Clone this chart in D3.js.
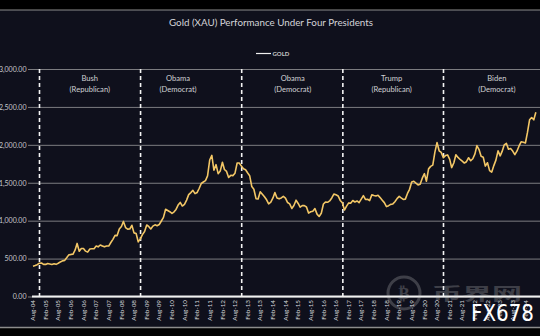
<!DOCTYPE html>
<html><head><meta charset="utf-8">
<script src="https://cdn.jsdelivr.net/npm/d3@7"></script>
<style>html,body{margin:0;padding:0;background:#000;}svg{display:block;}</style>
</head><body>
<svg id="c" width="540" height="336"></svg>
<script>
// ---- data ----
const startMonth = "2004-08";
const gold2004 = [400, 408, 420, 439, 442];
const gold2005 = [424, 423, 434, 428, 422, 431, 424, 438, 456, 470, 476, 510];
const gold2006 = [549, 555, 557, 610, 700, 596, 633, 632, 598, 585, 627, 629];
const gold2007 = [631, 665, 655, 679, 667, 655, 665, 665, 712, 754, 806, 803];
const gold2008 = [889, 922, 990, 909, 888, 890, 939, 839, 830, 720, 760, 816];
const gold2009 = [858, 943, 924, 890, 928, 945, 934, 949, 996, 1043, 1150, 1134];
const gold2010 = [1118, 1095, 1113, 1148, 1205, 1240, 1193, 1215, 1271, 1343, 1370, 1400];
const gold2011 = [1356, 1372, 1424, 1490, 1510, 1529, 1590, 1800, 1860, 1665, 1739, 1620];
const gold2012 = [1656, 1770, 1675, 1649, 1570, 1598, 1594, 1626, 1760, 1760, 1722, 1685];
const gold2013 = [1671, 1628, 1593, 1450, 1414, 1290, 1286, 1380, 1349, 1316, 1275, 1221];
const gold2014 = [1244, 1300, 1370, 1299, 1288, 1300, 1320, 1296, 1239, 1222, 1160, 1200];
const gold2015 = [1270, 1227, 1178, 1198, 1198, 1181, 1100, 1117, 1125, 1159, 1086, 1055];
const gold2016 = [1097, 1220, 1245, 1242, 1260, 1300, 1350, 1341, 1326, 1267, 1236, 1140];
const gold2017 = [1192, 1234, 1231, 1266, 1246, 1260, 1237, 1283, 1330, 1280, 1282, 1265];
const gold2018 = [1340, 1331, 1325, 1335, 1304, 1270, 1238, 1185, 1198, 1215, 1221, 1250];
const gold2019 = [1291, 1320, 1300, 1280, 1284, 1359, 1413, 1510, 1520, 1495, 1471, 1480];
const gold2020 = [1560, 1620, 1520, 1683, 1716, 1732, 1900, 2030, 1921, 1900, 1830, 1858];
const gold2021 = [1867, 1808, 1700, 1760, 1870, 1834, 1807, 1785, 1760, 1777, 1830, 1790];
const gold2022 = [1817, 1880, 1990, 1937, 1849, 1837, 1720, 1764, 1660, 1640, 1726, 1798];
const gold2023 = [1920, 1855, 1913, 2000, 2020, 1943, 1951, 1918, 1870, 1916, 1985, 2040];
const gold2024 = [2034, 2024, 2160, 2330, 2360, 2330, 2430];
const goldSeries = [].concat(gold2004, gold2005, gold2006, gold2007, gold2008, gold2009, gold2010,
  gold2011, gold2012, gold2013, gold2014, gold2015, gold2016, gold2017, gold2018, gold2019,
  gold2020, gold2021, gold2022, gold2023, gold2024);

const yTicks = [0, 500, 1000, 1500, 2000, 2500, 3000];
const xTickStart = "2004-08", xTickCount = 40; // Aug-04 ... Feb-24, every 6 months
const electionDates = ["2004-11-03", "2008-11-04", "2012-11-06", "2016-11-08", "2020-11-03"];
const presidents = ["Bush", "Obama", "Obama", "Trump", "Biden"];
const parties = ["(Republican)", "(Democrat)", "(Democrat)", "(Republican)", "(Democrat)"];
const labelDates = ["2006-11-01", "2010-05-01", "2014-11-15", "2018-10-15", "2022-12-15"];
const titleText = "Gold (XAU) Performance Under Four Presidents";
const seriesName = "GOLD";

// ---- drawing ----
const svg = d3.select("#c");
const parseM = d3.timeParse("%Y-%m");
const parseD = d3.timeParse("%Y-%m-%d");
const t0 = parseM(startMonth);
const data = goldSeries.map((v, i) => ({date: d3.timeMonth.offset(t0, i), v}));

svg.append("rect").attr("width", 540).attr("height", 336).attr("fill", "#000");
svg.append("rect").attr("x", 0).attr("y", 10).attr("width", 540).attr("height", 317).attr("fill", "#0f101c");
svg.append("line").attr("x1", 0).attr("x2", 540).attr("y1", 10).attr("y2", 10).attr("stroke", "#8c8c8c").attr("stroke-width", 1.2);
svg.append("line").attr("x1", 0).attr("x2", 540).attr("y1", 327.5).attr("y2", 327.5).attr("stroke", "#8c8c8c").attr("stroke-width", 1.4);

const x = d3.scaleTime().domain([parseM("2004-08"), parseM("2024-08")]).range([33, 538]);
const y = d3.scaleLinear().domain([0, 3000]).range([296.5, 69]);

// title
svg.append("text").attr("x", 271).attr("y", 26).attr("text-anchor", "middle")
  .attr("font-family", "Lato, 'Open Sans', sans-serif").attr("font-size", 9.8)
  .attr("fill", "#d4d4d8").text(titleText);

// legend
svg.append("line").attr("x1", 256).attr("x2", 271).attr("y1", 53.5).attr("y2", 53.5)
  .attr("stroke", "#f0f0f0").attr("stroke-width", 1.2);
svg.append("text").attr("x", 272.5).attr("y", 55.8)
  .attr("font-family", "Lato, sans-serif").attr("font-size", 6).attr("font-weight", "bold")
  .attr("fill", "#c8c8c8").text(seriesName);

// grid + y axis
const yAxis = d3.axisLeft(y).tickValues(yTicks).tickSize(-(540 - 28)).tickPadding(3)
  .tickFormat(d3.format(",.2f"));
const gy = svg.append("g").attr("transform", "translate(28,0)").call(yAxis);
gy.select(".domain").remove();
gy.selectAll(".tick line").attr("stroke", "#7c7c80").attr("stroke-width", 1);
gy.selectAll(".tick text").attr("font-family", "Lato, sans-serif").attr("font-size", 7)
  .attr("fill", "#c8c8cc").attr("x", -1.5);

// dashed election lines
svg.append("g").selectAll("line").data(electionDates).join("line")
  .attr("x1", d => x(parseD(d))).attr("x2", d => x(parseD(d)))
  .attr("y1", y(3000)).attr("y2", y(0))
  .attr("stroke", "#f4f4f4").attr("stroke-width", 1.6).attr("stroke-dasharray", "4,3");

// president labels
const pl = svg.append("g").attr("font-family", "Lato, sans-serif").attr("font-size", 7.6)
  .attr("fill", "#d0d0d4").attr("text-anchor", "middle");
presidents.forEach((p, i) => {
  const px = x(parseD(labelDates[i]));
  pl.append("text").attr("x", px).attr("y", 81).text(p);
  pl.append("text").attr("x", px).attr("y", 92).text(parties[i]);
});

// gold line
const line = d3.line().x(d => x(d.date)).y(d => y(d.v)).curve(d3.curveLinear);
svg.append("path").datum(data).attr("d", line).attr("fill", "none")
  .attr("stroke", "#f3c766").attr("stroke-width", 1.6).attr("stroke-linejoin", "round");

// x axis base line
svg.append("line").attr("x1", 32).attr("x2", 540).attr("y1", y(0)).attr("y2", y(0))
  .attr("stroke", "#f2f2f2").attr("stroke-width", 1.8);

// x tick labels
const xTicks = d3.range(xTickCount).map(i => d3.timeMonth.offset(parseM(xTickStart), i * 6));
const fmt = d3.timeFormat("%b-%y");
svg.append("g").selectAll("text").data(xTicks).join("text")
  .attr("transform", d => `translate(${x(d)},300) rotate(-90)`)
  .attr("text-anchor", "end").attr("dy", "0.35em")
  .attr("font-family", "Lato, sans-serif").attr("font-size", 6.3)
  .attr("fill", "#d8d8dc").text(d => fmt(d));

// watermarks
const wm = svg.append("g").attr("opacity", 0.25);
wm.append("circle").attr("cx", 404).attr("cy", 293).attr("r", 16).attr("fill", "none")
  .attr("stroke", "#cccccc").attr("stroke-width", 3);
wm.append("text").attr("x", 404).attr("y", 299).attr("text-anchor", "middle")
  .attr("font-family", "DejaVu Sans").attr("font-size", 17).attr("font-weight", "bold")
  .attr("fill", "#cccccc").text("₿");
wm.append("text").attr("x", 432).attr("y", 300)
  .attr("font-family", "'Noto Sans CJK SC'").attr("font-size", 17).attr("font-weight", "bold")
  .attr("textLength", 90).attr("lengthAdjust", "spacingAndGlyphs")
  .attr("fill", "#cccccc").text("币界网");
svg.append("text").attr("x", 471).attr("y", 321)
  .attr("font-family", "'DejaVu Sans', sans-serif").attr("font-size", 23)
  .attr("textLength", 63).attr("lengthAdjust", "spacingAndGlyphs")
  .attr("fill", "#ffffff").text("FX678");
</script>
</body></html>
